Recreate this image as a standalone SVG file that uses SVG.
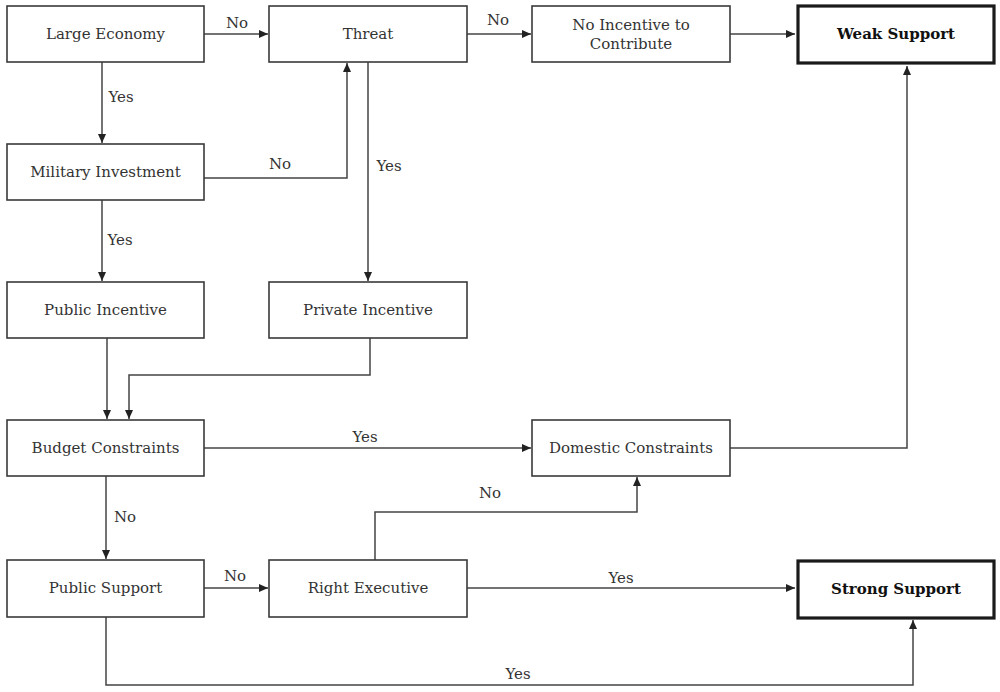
<svg xmlns="http://www.w3.org/2000/svg" width="1000" height="692" viewBox="0 0 1000 692">
<style>
.box{fill:#fff;stroke:#3a3a3a;stroke-width:1.6}
.term{fill:#fff;stroke:#1a1a1a;stroke-width:3.2}
.t{font-family:"DejaVu Serif","Liberation Serif",serif;font-size:15px;fill:#333;text-anchor:middle;dominant-baseline:central}
.b{font-weight:bold;fill:#111}
.c{fill:none;stroke:#444;stroke-width:1.5}
</style>
<defs>
<marker id="ah" markerUnits="userSpaceOnUse" markerWidth="10" markerHeight="10" refX="9" refY="4" orient="auto">
<path d="M0,0 L9,4 L0,8 z" fill="#222"/>
</marker>
</defs>
<rect width="1000" height="692" fill="#fff"/>
<g id="connectors">
<path class="c" d="M204,34 H268" marker-end="url(#ah)"/>
<path class="c" d="M102,62 V143" marker-end="url(#ah)"/>
<path class="c" d="M204,178 H347 V63" marker-end="url(#ah)"/>
<path class="c" d="M368,62 V281" marker-end="url(#ah)"/>
<path class="c" d="M467,34 H531" marker-end="url(#ah)"/>
<path class="c" d="M730,34 H795" marker-end="url(#ah)"/>
<path class="c" d="M102,200 V281" marker-end="url(#ah)"/>
<path class="c" d="M107,338 V419" marker-end="url(#ah)"/>
<path class="c" d="M370,338 V375 H129 V419" marker-end="url(#ah)"/>
<path class="c" d="M204,448 H531" marker-end="url(#ah)"/>
<path class="c" d="M730,448 H907 V66" marker-end="url(#ah)"/>
<path class="c" d="M106,476 V559" marker-end="url(#ah)"/>
<path class="c" d="M204,588 H268" marker-end="url(#ah)"/>
<path class="c" d="M375,560 V512 H637 V477" marker-end="url(#ah)"/>
<path class="c" d="M467,588 H795" marker-end="url(#ah)"/>
<path class="c" d="M106,617 V685 H913 V620" marker-end="url(#ah)"/>
<text class="t" x="237" y="23">No</text>
<text class="t" x="121" y="97">Yes</text>
<text class="t" x="280" y="164">No</text>
<text class="t" x="389" y="166">Yes</text>
<text class="t" x="120" y="240">Yes</text>
<text class="t" x="498" y="20">No</text>
<text class="t" x="365" y="437">Yes</text>
<text class="t" x="125" y="517">No</text>
<text class="t" x="235" y="576">No</text>
<text class="t" x="490" y="493">No</text>
<text class="t" x="621" y="578">Yes</text>
<text class="t" x="518" y="674">Yes</text>
</g>
<g id="large-economy"><rect class="box" x="7" y="6" width="197" height="56"/><text class="t" x="105.5" y="34">Large Economy</text></g>
<g id="threat"><rect class="box" x="269" y="6" width="198" height="56"/><text class="t" x="368" y="34">Threat</text></g>
<g id="no-incentive"><rect class="box" x="532" y="6" width="198" height="56"/><text class="t" x="631" y="25">No Incentive to</text><text class="t" x="631" y="44">Contribute</text></g>
<g id="weak-support"><rect class="term" x="798" y="6" width="196" height="57"/><text class="t b" x="896" y="34">Weak Support</text></g>
<g id="military-investment"><rect class="box" x="7" y="144" width="197" height="56"/><text class="t" x="105.5" y="172">Military Investment</text></g>
<g id="public-incentive"><rect class="box" x="7" y="282" width="197" height="56"/><text class="t" x="105.5" y="310">Public Incentive</text></g>
<g id="private-incentive"><rect class="box" x="269" y="282" width="198" height="56"/><text class="t" x="368" y="310">Private Incentive</text></g>
<g id="budget-constraints"><rect class="box" x="7" y="420" width="197" height="56"/><text class="t" x="105.5" y="448">Budget Constraints</text></g>
<g id="domestic-constraints"><rect class="box" x="532" y="420" width="198" height="56"/><text class="t" x="631" y="448">Domestic Constraints</text></g>
<g id="public-support"><rect class="box" x="7" y="560" width="197" height="57"/><text class="t" x="105.5" y="588">Public Support</text></g>
<g id="right-executive"><rect class="box" x="269" y="560" width="198" height="57"/><text class="t" x="368" y="588">Right Executive</text></g>
<g id="strong-support"><rect class="term" x="798" y="561" width="196" height="57"/><text class="t b" x="896" y="589">Strong Support</text></g>
</svg>
